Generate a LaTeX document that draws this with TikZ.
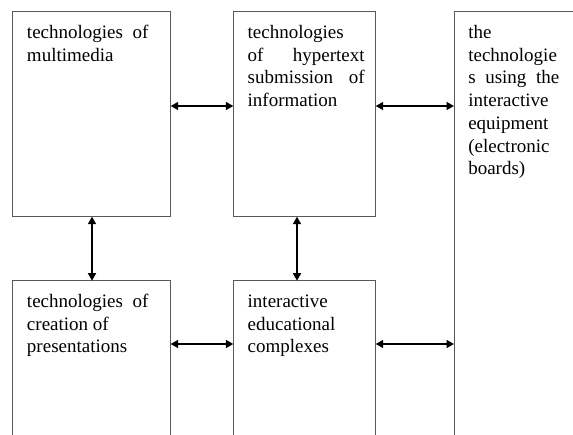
\documentclass[tikz,border=0pt]{standalone}
\usepackage{fontspec}
\setmainfont{Liberation Serif}
\usetikzlibrary{arrows.meta}
\tikzset{
  box/.style={draw=black!65, line width=0.8pt, anchor=north west, inner sep=0pt, outer sep=0pt},
  txt/.style={anchor=base west, inner sep=0pt, outer sep=0pt, align=justify, font=\fontsize{19}{22.7}\selectfont},
  arr/.style={draw=black, line width=1.6pt, {Triangle[length=7.5pt,width=8pt]}-{Triangle[length=7.5pt,width=8pt]}}
}
\begin{document}
\begin{tikzpicture}[x=1pt,y=-1pt]
\useasboundingbox (0,0) rectangle (573,434);
\clip (0,0) rectangle (573,434);
% boxes
\node[box, minimum width=158pt, minimum height=205pt] (b1) at (12.7,11.7) {};
\node[box, minimum width=142.4pt, minimum height=205pt] (b2) at (233.3,11.7) {};
\node[box, minimum width=160pt, minimum height=440pt] (b3) at (454,11.7) {};
\node[box, minimum width=158pt, minimum height=170pt] (b4) at (12.7,280.7) {};
\node[box, minimum width=142.4pt, minimum height=170pt] (b5) at (233.3,280.7) {};
% texts
\node[txt, text width=121.5pt] (t1) at (27,38.5) {technologies of\linebreak multimedia};
\node[txt, text width=117pt] (t2) at (247.7,38.5) {technologies\linebreak of hypertext\linebreak submission of\linebreak information};
\node[txt, text width=91pt] (t3) at (468.3,38.5) {the\linebreak technologie\linebreak s using the\linebreak interactive\linebreak equipment\linebreak (electronic\linebreak boards)};
\node[txt, text width=121.5pt] (t4) at (27,307.3) {technologies of\linebreak creation of\newline presentations};
\node[txt, text width=117pt] (t5) at (247.7,307.3) {interactive\newline educational\newline complexes};
% arrow rows/columns
\coordinate (rowA) at (0,106);
\coordinate (rowB) at (0,344);
\coordinate (colA) at (92,0);
\coordinate (colB) at (297,0);
\draw[arr] (b1.east |- rowA) -- (b2.west |- rowA);
\draw[arr] (b2.east |- rowA) -- (b3.west |- rowA);
\draw[arr] (b4.east |- rowB) -- (b5.west |- rowB);
\draw[arr] (b5.east |- rowB) -- (b3.west |- rowB);
\draw[arr] (b1.south -| colA) -- (b4.north -| colA);
\draw[arr] (b2.south -| colB) -- (b5.north -| colB);
\end{tikzpicture}
\end{document}
